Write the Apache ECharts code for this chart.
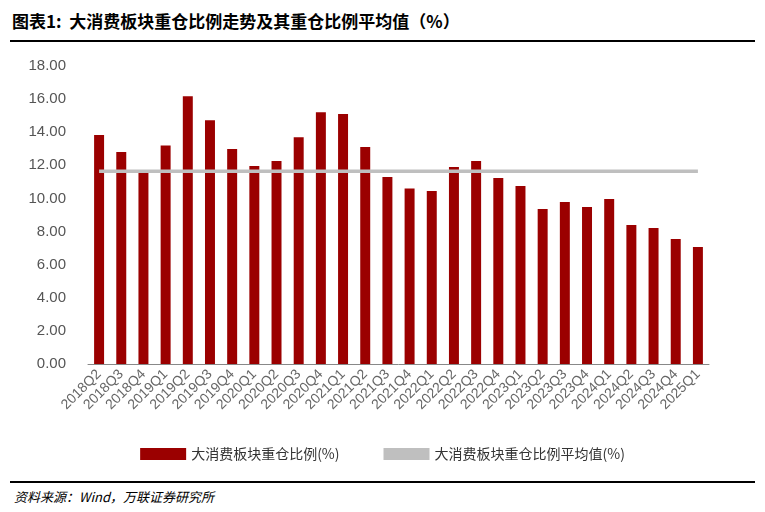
<!DOCTYPE html>
<html><head><meta charset="utf-8">
<script src="https://cdn.jsdelivr.net/npm/echarts@6/dist/echarts.min.js"></script>
<style>
html,body{margin:0;padding:0;background:#fff;font-family:"Noto Sans CJK SC",sans-serif;}
#title{position:absolute;left:12px;top:8px;font-size:17px;font-weight:bold;color:#000;}
#top-line{position:absolute;left:10px;right:10px;top:40px;border-top:2px solid #000;}
#bot-line{position:absolute;left:10px;right:10px;top:481px;border-top:2px solid #000;}
#src{position:absolute;left:14px;top:487px;font-size:13px;font-style:italic;color:#000;}
#chart{position:absolute;left:0;top:42px;width:765px;height:438px;}
</style></head>
<body>
<div id="title">图表1:&nbsp; 大消费板块重仓比例走势及其重仓比例平均值（%）</div>
<div id="top-line"></div>
<div id="chart"></div>
<div id="bot-line"></div>
<div id="src">资料来源：Wind，万联证券研究所</div>
<script>
var quarters = ['2018Q2','2018Q3','2018Q4','2019Q1','2019Q2','2019Q3','2019Q4','2020Q1','2020Q2','2020Q3','2020Q4','2021Q1','2021Q2','2021Q3','2021Q4','2022Q1','2022Q2','2022Q3','2022Q4','2023Q1','2023Q2','2023Q3','2023Q4','2024Q1','2024Q2','2024Q3','2024Q4','2025Q1'];
var ratio = [13.83,12.8,11.53,13.2,16.18,14.73,12.98,11.96,12.26,13.7,15.2,15.1,13.1,11.3,10.6,10.45,11.9,12.26,11.23,10.75,9.36,9.78,9.48,9.96,8.39,8.21,7.55,7.07];
var avgValue = 11.65;
var average = quarters.map(function () { return avgValue; });

var chart = echarts.init(document.getElementById('chart'));
chart.setOption({
    animation: false,
    grid: { left: 88, right: 56, top: 24, bottom: 116 },
    legend: {
        bottom: 14, left: 'center', itemGap: 44,
        textStyle: { fontSize: 14, color: '#333', fontFamily: 'Noto Sans CJK SC' },
        data: [
            { name: '大消费板块重仓比例(%)', icon: 'rect', itemStyle: { color: '#9b0000' } },
            { name: '大消费板块重仓比例平均值(%)', icon: 'rect' }
        ],
        itemWidth: 46, itemHeight: 12
    },
    xAxis: {
        type: 'category', data: quarters,
        axisTick: { show: false },
        axisLine: { lineStyle: { color: '#888' } },
        axisLabel: { rotate: 45, fontSize: 14, color: '#666', interval: 0, margin: 8 }
    },
    yAxis: {
        type: 'value', min: 0, max: 18, interval: 2,
        splitLine: { show: false },
        axisLine: { show: false },
        axisLabel: { fontSize: 15, color: '#555', formatter: function (v) { return v.toFixed(2); }, margin: 22 }
    },
    series: [
        { name: '大消费板块重仓比例(%)', type: 'bar', data: ratio, barWidth: '45%', itemStyle: { color: '#9b0000' } },
        { name: '大消费板块重仓比例平均值(%)', type: 'line', data: average, symbol: 'none',
          lineStyle: { color: '#bfbfbf', width: 3.5 }, itemStyle: { color: '#bfbfbf' } }
    ]
});
</script>
</body></html>
